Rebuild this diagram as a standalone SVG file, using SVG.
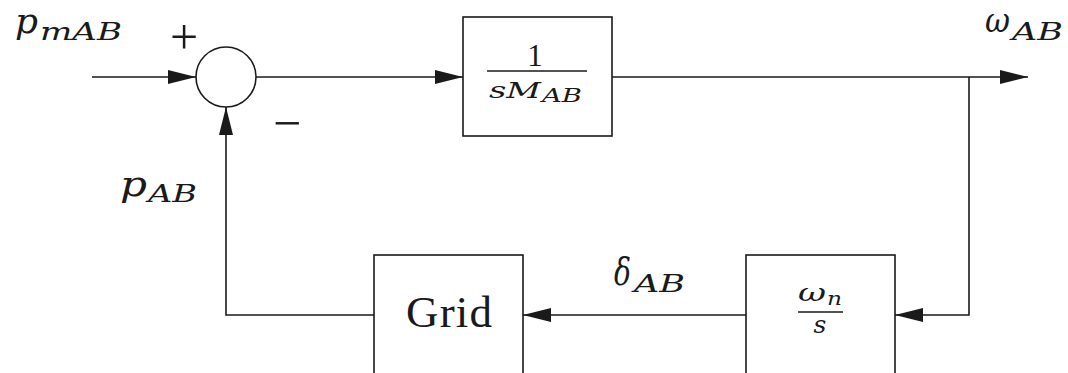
<svg xmlns="http://www.w3.org/2000/svg" width="1068" height="373" viewBox="0 0 1068 373">
<style>
.ln{fill:none;stroke:#1a1a1a;stroke-width:1.6}
.bx{fill:#fff;stroke:#1a1a1a;stroke-width:1.6}
.m{font-family:"DejaVu Serif","Liberation Serif",serif;font-style:italic;fill:#1a1a1a}
.r{font-family:"Liberation Serif","DejaVu Serif",serif;fill:#1a1a1a}
</style>
<defs>
<marker id="ah" viewBox="0 0 28 14" refX="28" refY="7" markerWidth="28" markerHeight="14" markerUnits="userSpaceOnUse" orient="auto">
<path d="M0,0 L28,7 L0,14 Z" fill="#1a1a1a"/>
</marker>
</defs>
<rect width="1068" height="373" fill="#fff"/>
<g id="connectors">
<line class="ln" x1="92" y1="77" x2="196" y2="77" marker-end="url(#ah)"/>
<line class="ln" x1="256" y1="77" x2="463" y2="77" marker-end="url(#ah)"/>
<line class="ln" x1="612" y1="77" x2="1028" y2="77" marker-end="url(#ah)"/>
<polyline class="ln" points="969,77 969,315 895,315" marker-end="url(#ah)"/>
<line class="ln" x1="746" y1="315" x2="523" y2="315" marker-end="url(#ah)"/>
<polyline class="ln" points="374,315 226,315 226,107" marker-end="url(#ah)"/>
</g>
<g id="sum">
<circle class="bx" cx="226" cy="77" r="30"/>
<text class="r" x="184" y="54" font-size="50" text-anchor="middle">+</text>
<text class="r" x="287" y="140" font-size="50" text-anchor="middle">−</text>
</g>
<g id="integrator">
<rect class="bx" x="463" y="17" width="149" height="119"/>
<text class="r" x="535" y="66" font-size="31" text-anchor="middle">1</text>
<line class="ln" x1="487" y1="71" x2="587" y2="71"/>
<text class="m" x="489" y="98" font-size="23" textLength="52" lengthAdjust="spacingAndGlyphs">sM</text>
<text class="m" x="542" y="102" font-size="19" textLength="40" lengthAdjust="spacingAndGlyphs">AB</text>
</g>
<g id="omega-block">
<rect class="bx" x="746" y="255" width="149" height="130"/>
<text class="m" x="798" y="301" font-size="24" textLength="28" lengthAdjust="spacingAndGlyphs">ω</text>
<text class="m" x="827" y="305" font-size="19" textLength="15" lengthAdjust="spacingAndGlyphs">n</text>
<line class="ln" x1="798" y1="312" x2="843" y2="312"/>
<text class="m" x="820" y="333" font-size="25" text-anchor="middle">s</text>
</g>
<g id="grid">
<rect class="bx" x="374" y="255" width="149" height="130"/>
<text class="r" x="406" y="327" font-size="45" textLength="86" lengthAdjust="spacing">Grid</text>
</g>
<g id="labels">
<text class="m" x="15" y="33" font-size="36" textLength="23" lengthAdjust="spacingAndGlyphs">p</text>
<text class="m" x="40" y="40" font-size="24" textLength="82" lengthAdjust="spacingAndGlyphs">mAB</text>
<text class="m" x="985" y="32" font-size="34" textLength="25" lengthAdjust="spacingAndGlyphs">ω</text>
<text class="m" x="1012" y="40" font-size="24" textLength="51" lengthAdjust="spacingAndGlyphs">AB</text>
<text class="m" x="120" y="196" font-size="36" textLength="27" lengthAdjust="spacingAndGlyphs">p</text>
<text class="m" x="148" y="202" font-size="24" textLength="49" lengthAdjust="spacingAndGlyphs">AB</text>
<text class="m" x="614" y="285" font-size="38" textLength="17" lengthAdjust="spacingAndGlyphs">δ</text>
<text class="m" x="634" y="292" font-size="24" textLength="51" lengthAdjust="spacingAndGlyphs">AB</text>
</g>
</svg>
